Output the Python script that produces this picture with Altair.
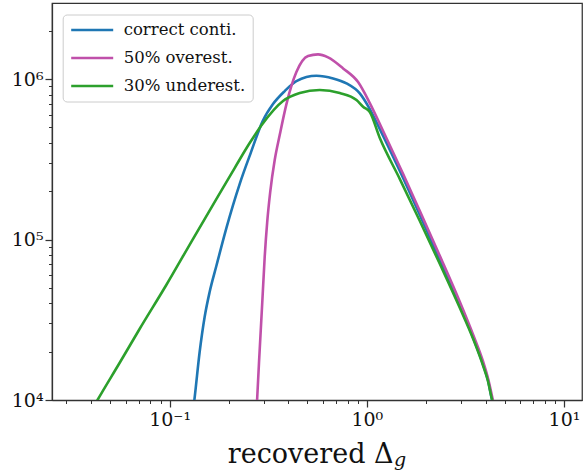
import altair as alt
import pandas as pd

FONT = "DejaVu Serif"

series_names = ["correct conti.", "50% overest.", "30% underest."]
series_colors = ["#1f77b4", "#c050aa", "#2ca02c"]

correct_x = [0.1316, 0.1339, 0.14202, 0.15055, 0.15958, 0.17259, 0.19404, 0.22659, 0.25772,
             0.29655, 0.33443, 0.38353, 0.43951, 0.5554, 0.6745, 0.7888, 0.9215, 1.0357,
             1.1642, 1.4711, 1.8578, 2.3479, 2.9655, 3.4647, 3.8937, 4.1142, 4.2961, 4.3874]
correct_y = [8665, 10291, 19910, 32890, 47090, 68380, 117910, 221780, 345840,
             547240, 698750, 841900, 971700, 1049000, 1010000, 940200, 814500, 650200,
             488000, 267200, 142130, 74510, 39080, 24340, 16520, 13320, 10290, 9308]

over_x = [0.2764, 0.2781, 0.2863, 0.29551, 0.30355, 0.31256, 0.32372, 0.34119, 0.36170,
          0.39126, 0.43951, 0.5035, 0.5658, 0.6362, 0.7583, 0.90326, 1.0357, 1.2098,
          1.5290, 1.8578, 2.3479, 2.9655, 3.4647, 3.8937, 4.1384, 4.3366, 4.4135]
over_y = [8665, 10290, 20490, 41980, 77800, 128550, 197700, 312900, 447900,
          698750, 1105500, 1391000, 1425000, 1365000, 1166000, 958000, 708800, 474300,
          255900, 150500, 78920, 40800, 25410, 17250, 13320, 10290, 9308]

under_x = [0.0402, 0.0431, 0.05574, 0.07043, 0.09621, 0.13131, 0.17259, 0.21375, 0.25472,
           0.29310, 0.37593, 0.45703, 0.5772, 0.72940, 0.88661, 0.9576, 1.0357, 1.1642,
           1.4711, 1.8578, 2.3479, 2.9655, 3.4647, 3.8937, 4.1142, 4.2961, 4.3874]
under_y = [8590, 10000, 17004, 27700, 52070, 100720, 178770, 279000, 399300,
           516900, 729500, 818100, 854300, 818100, 740000, 672300, 622900, 429000,
           238200, 130440, 70390, 37430, 23990, 16290, 13140, 10290, 9308]

x_ticks = [0.03, 0.04, 0.05, 0.06, 0.07, 0.08, 0.09,
           0.1, 0.2, 0.3, 0.4, 0.5, 0.6, 0.7, 0.8, 0.9,
           1, 2, 3, 4, 5, 6, 7, 8, 9, 10]
y_ticks = [10000, 20000, 30000, 40000, 50000, 60000, 70000, 80000, 90000,
           100000, 200000, 300000, 400000, 500000, 600000, 700000, 800000, 900000,
           1000000, 2000000]
x_domain = [0.02533, 12.34]
y_domain = [10000, 2980000]

rows = []
for name, xs, ys in [(series_names[0], correct_x, correct_y),
                     (series_names[1], over_x, over_y),
                     (series_names[2], under_x, under_y)]:
    for i, (a, b) in enumerate(zip(xs, ys)):
        rows.append({"series": name, "x": a, "y": b, "order": i})
df = pd.DataFrame(rows)

test = "abs(log(datum.value)/LN10 - round(log(datum.value)/LN10)) < 1e-6"
sup = "['⁰','¹','²','³','⁴','⁵','⁶','⁷','⁸','⁹']"
label_expr = (f"{test} ? '10' + (round(log(datum.value)/LN10) < 0 ? '⁻' : '') + "
              f"{sup}[abs(round(log(datum.value)/LN10))] : ''")

axis_common = dict(
    labelExpr=label_expr,
    labelFont=FONT,
    labelFontSize=19,
    labelColor="#111111",
    labelOverlap=False,
    labelFlush=False,
    labelBound=False,
    tickColor="#333333",
    tickSize={"condition": {"test": test, "value": 7}, "value": 3.5},
    tickWidth={"condition": {"test": test, "value": 1.25}, "value": 1.0},
    domainColor="#333333",
    domainWidth=1.25,
    grid=False,
)

lines = alt.Chart(df).mark_line(strokeWidth=2.6, clip=True, interpolate="monotone").encode(
    x=alt.X("x:Q",
            scale=alt.Scale(type="log", domain=x_domain, nice=False),
            axis=alt.Axis(values=x_ticks, labelPadding=3,
                          title="recovered Δ", titleFont=FONT, titleFontSize=27,
                          titleFontWeight="normal", titleColor="#111111",
                          titleAlign="right", titleBaseline="alphabetic",
                          titleX=341, titleY=62, titleAnchor="start",
                          **axis_common)),
    y=alt.Y("y:Q",
            scale=alt.Scale(type="log", domain=y_domain, nice=False),
            axis=alt.Axis(values=y_ticks, labelPadding=2, title="", **axis_common)),
    color=alt.Color("series:N",
                    scale=alt.Scale(domain=series_names, range=series_colors),
                    legend=alt.Legend(orient="none", legendX=10.7, legendY=11.5,
                                      title=None, labelFont=FONT, labelFontSize=16.5,
                                      labelColor="#111111",
                                      symbolType="M-3,0H3", symbolSize=196,
                                      symbolStrokeWidth=2.6, symbolOffset=14,
                                      labelOffset=23, rowPadding=11, padding=7,
                                      fillColor="white", strokeColor="#cccccc",
                                      cornerRadius=4)),
    order="order:Q",
)

g_df = pd.DataFrame({"t": ["g"]})
g_text = alt.Chart(g_df).mark_text(font=FONT, fontSize=19, fontStyle="italic",
                                   align="left", baseline="alphabetic",
                                   color="#111111").encode(
    x=alt.value(342), y=alt.value(463), text="t:N")

chart = alt.layer(lines, g_text).properties(
    width=530, height=397,
    padding={"left": 52, "top": 3, "right": 2, "bottom": 72},
    autosize=alt.AutoSizeParams(type="none"),
).configure_view(stroke="#333333", strokeWidth=1.25)

chart.save("out.html", embed_options={"renderer": "svg", "actions": False})
